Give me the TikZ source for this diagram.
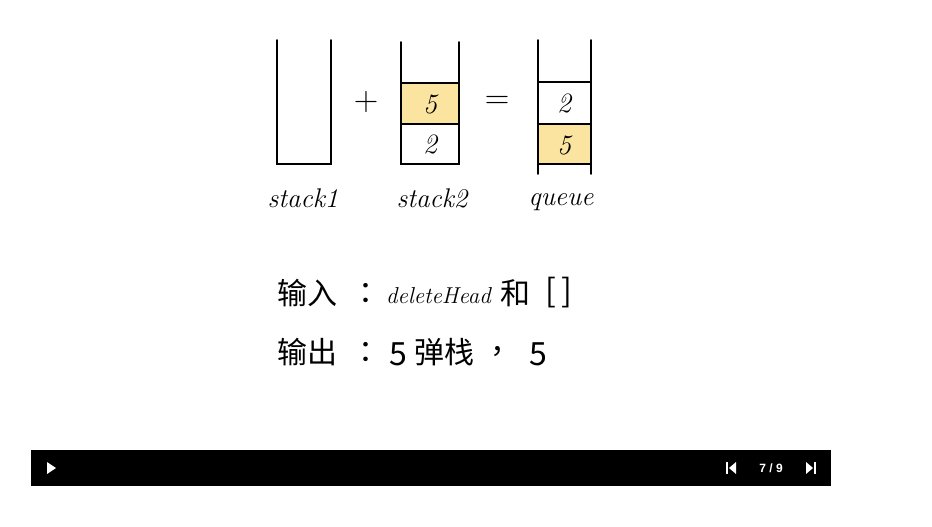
\documentclass[tikz,border=0pt]{standalone}
\usepackage{fontspec}
\newfontfamily\cjk{Noto Sans CJK SC}
\newfontfamily\ui{Liberation Sans}
\definecolor{boxyellow}{RGB}{250,228,160}
\begin{document}
\begin{tikzpicture}[x=1pt,y=-1pt,
  wall/.style={line width=1.8pt,line cap=round},
  cell/.style={draw,line width=1.8pt},
  num/.style={font=\fontsize{28}{28}\selectfont\itshape},
  lab/.style={font=\fontsize{27}{27}\selectfont\itshape,anchor=base},
  zh/.style={font=\cjk\fontsize{30}{30}\selectfont,anchor=west,inner sep=0pt},
  lat/.style={font=\fontsize{23}{23}\selectfont\itshape,anchor=west,inner sep=0pt},
  big/.style={font=\cjk\fontsize{32}{32}\selectfont,anchor=west,inner sep=0pt},
  icon/.style={fill=white,draw=none}]
\useasboundingbox (0,0) rectangle (932,527);
\fill[white] (0,0) rectangle (932,527);
% stack1
\coordinate (s1tl) at (277,40); \coordinate (s1bl) at (277,164);
\coordinate (s1tr) at (331,40); \coordinate (s1br) at (331,164);
\draw[wall] (s1tl) -- (s1bl) -- (s1br) -- (s1tr);
\node[lab] (l1) at (303,207) {stack1};
% plus
\node[font=\fontsize{34}{34}\selectfont] (plus) at (366,102) {+};
% stack2
\fill[boxyellow] (401,83) rectangle (459,124);
\draw[cell] (401,83) rectangle (459,124);
\draw[cell] (401,124) rectangle (459,164);
\coordinate (s2tl) at (401,42); \coordinate (s2tr) at (459,42);
\draw[wall] (s2tl) -- (401,164) (s2tr) -- (459,164);
\node[num] (n5a) at (430,104) {5};
\node[num] (n2a) at (430,144) {2};
\node[lab] (l2) at (432,207) {stack2};
% equals
\node[font=\fontsize{34}{34}\selectfont] (eq) at (497,102) {=};
% queue
\fill[boxyellow] (538,124) rectangle (591,164);
\draw[cell] (538,82) rectangle (591,124);
\draw[cell] (538,124) rectangle (591,164);
\coordinate (qtl) at (538,40); \coordinate (qtr) at (591,40);
\draw[wall] (qtl) -- (538,174) (qtr) -- (591,174);
\node[num] (n2b) at (564,103) {2};
\node[num] (n5b) at (564,145) {5};
\node[lab] (l3) at (561,205) {queue};
% line 1
\node[zh] (t1a) at (277,293) {输入};
\node[zh] (t1b) at (358,293) {：};
\node[lat] (t1c) at (386,296) {deleteHead};
\node[zh] (t1d) at (500,293) {和};
\node[big] (t1e) at (545,293) {[\,]};
% line 2
\node[zh] (t2a) at (277,352) {输出};
\node[zh] (t2b) at (358,352) {：};
\node[big] (t2c) at (389,354) {5};
\node[zh] (t2d) at (414,352) {弹栈};
\node[zh] (t2e) at (490,352) {，};
\node[big] (t2f) at (529,354) {5};
% control bar
\fill[black] (31,450) rectangle (831,486);
\fill[icon] (47,462) -- (56,468) -- (47,474) -- cycle;
\fill[icon] (726,462) rectangle (728,474);
\fill[icon] (736,462) -- (729,468) -- (736,474) -- cycle;
\node[font=\ui\bfseries\fontsize{12}{12}\selectfont,text=white] (pg) at (771,468) {7 / 9};
\fill[icon] (806,462) -- (813,468) -- (806,474) -- cycle;
\fill[icon] (814,462) rectangle (816,474);
\end{tikzpicture}
\end{document}
